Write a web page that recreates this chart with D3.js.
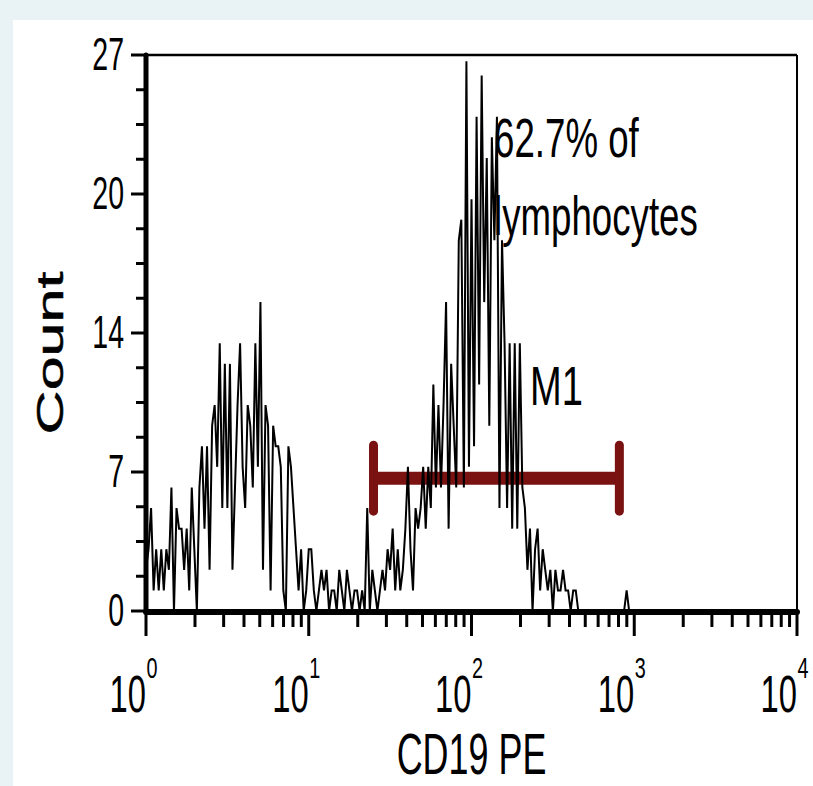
<!DOCTYPE html>
<html>
<head>
<meta charset="utf-8">
<script src="https://cdn.jsdelivr.net/npm/d3@7"></script>
<style>
  html, body { margin: 0; padding: 0; background: #e9f2f5; }
  svg { display: block; }
  text { font-family: "Liberation Sans", Arial, sans-serif; fill: #000; }
</style>
</head>
<body>
<svg id="chart" width="813" height="786"></svg>
<script>
// CD19 PE fluorescence histogram: 256 log-spaced channels over four decades
const channelsPerDecade = 64;

// events per channel, low region / dim population (channels 0-64)
const countsDim = [
  2, 3, 5, 1, 3, 1, 3, 1, 3, 2,
  6, 0, 5, 4, 4, 2, 4, 1, 6, 3,
  0, 6, 8, 4, 8, 2, 9, 10, 7, 13,
  5, 12, 5, 12, 2, 6, 10, 13, 7, 5,
  10, 9, 6, 13, 7, 15, 2, 10, 9, 1,
  9, 8, 8, 7, 1, 0, 8, 7, 5, 3,
  1, 3, 0, 1, 3
];
// channels 65-99, valley between populations
const countsValley = [
  3, 1, 0, 1, 2, 1, 2, 0, 1, 1,
  0, 2, 1, 0, 2, 1, 0, 1, 1, 0,
  1, 0, 5, 0, 2, 1, 0, 1, 2, 1,
  3, 2, 4, 1, 3
];
// channels 100-170, CD19+ population
const countsBright = [
  1, 2, 4, 7, 3, 1, 5, 4, 5, 7,
  4, 7, 5, 11, 6, 10, 6, 10, 15, 4,
  12, 9, 6, 18, 19, 6, 26.7, 7, 20, 8,
  24, 11, 26, 15, 22, 9, 23, 18, 24, 5,
  18, 13, 5, 13, 4, 13, 4, 13, 6, 5,
  2, 4, 0, 3, 4, 1, 3, 2, 1, 2,
  0, 2, 1, 1, 2, 1, 1, 0, 1, 1,
  0
];
// channels 171-255
const countsHigh = [
  0, 0, 0, 0, 0, 0, 0, 0, 0, 0,
  0, 0, 0, 0, 0, 0, 0, 0, 1, 0,
  0, 0, 0, 0, 0, 0, 0, 0, 0, 0,
  0, 0, 0, 0, 0, 0, 0, 0, 0, 0,
  0, 0, 0, 0, 0, 0, 0, 0, 0, 0,
  0, 0, 0, 0, 0, 0, 0, 0, 0, 0,
  0, 0, 0, 0, 0, 0, 0, 0, 0, 0,
  0, 0, 0, 0, 0, 0, 0, 0, 0, 0,
  0, 0, 0, 0, 0
];

const yTickValues = [0, 6.75, 13.5, 20.25, 27];
const yTickLabels = ["0", "7", "14", "20", "27"];
const xDecadeExponents = [0, 1, 2, 3, 4];

// M1 gate bounds on the fluorescence axis
const gateM1 = [25, 810];
const gateLabel = "M1";
const noteLines = ["62.7% of", "lymphocytes"];
const xTitle = "CD19 PE";
const yTitle = "Count";

const counts = countsDim.concat(countsValley, countsBright, countsHigh);

const svg = d3.select("#chart");

// white panel
svg.append("rect").attr("x", 13).attr("y", 20).attr("width", 800).attr("height", 766).attr("fill", "#fff");

const x = d3.scaleLog().domain([1, 10000]).range([146, 797]);
const y = d3.scaleLinear().domain([0, 27]).range([611, 55]);

// frame: top and right edges
svg.append("line").attr("x1", x(1)).attr("x2", x(10000)).attr("y1", y(27)).attr("y2", y(27))
  .attr("stroke", "#000").attr("stroke-width", 2.5);
svg.append("line").attr("x1", x(10000)).attr("x2", x(10000)).attr("y1", y(27)).attr("y2", y(0))
  .attr("stroke", "#000").attr("stroke-width", 2);

// M1 gate marker
const gateY = y(6.45);
const gate = svg.append("g").attr("stroke", "#7a1212").attr("stroke-linecap", "round");
gate.append("line").attr("x1", x(gateM1[0])).attr("x2", x(gateM1[1])).attr("y1", gateY).attr("y2", gateY)
  .attr("stroke-width", 13).attr("stroke-linecap", "butt");
gateM1.forEach(v => {
  gate.append("line").attr("x1", x(v)).attr("x2", x(v)).attr("y1", gateY - 33).attr("y2", gateY + 33)
    .attr("stroke-width", 9);
});

// histogram trace
const line = d3.line()
  .x((d, i) => x(Math.pow(10, i / channelsPerDecade)))
  .y(d => y(d));
svg.append("path").datum(counts).attr("d", line)
  .attr("fill", "none").attr("stroke", "#000").attr("stroke-width", 2).attr("stroke-linejoin", "miter");

// y axis
const yAxis = svg.append("g");
yAxis.append("line").attr("x1", x(1)).attr("x2", x(1)).attr("y1", y(27)).attr("y2", y(0))
  .attr("stroke", "#000").attr("stroke-width", 5).attr("stroke-linecap", "round");
const yMinor = d3.range(0, 17).map(k => k * 27 / 16).filter((v, k) => k % 4 !== 0);
yAxis.selectAll(".ymin").data(yMinor).join("line")
  .attr("x1", 136).attr("x2", x(1)).attr("y1", d => y(d)).attr("y2", d => y(d))
  .attr("stroke", "#000").attr("stroke-width", 3);
yAxis.selectAll(".ymaj").data(yTickValues).join("line")
  .attr("x1", 131).attr("x2", x(1)).attr("y1", d => y(d)).attr("y2", d => y(d))
  .attr("stroke", "#000").attr("stroke-width", 3);
yAxis.selectAll(".ylab").data(yTickValues).join("text")
  .attr("transform", d => `translate(124,${y(d) + 15}) scale(0.62,1)`)
  .attr("text-anchor", "end").attr("font-size", 46)
  .text((d, i) => yTickLabels[i]);

// x axis
const xAxis = svg.append("g");
const xMinor = [];
xDecadeExponents.slice(0, -1).forEach(e => {
  for (let k = 2; k <= 9; k++) xMinor.push(k * Math.pow(10, e));
});
xAxis.selectAll(".xmin").data(xMinor).join("line")
  .attr("x1", d => x(d)).attr("x2", d => x(d)).attr("y1", y(0)).attr("y2", 627)
  .attr("stroke", "#000").attr("stroke-width", 3);
xAxis.selectAll(".xmaj").data(xDecadeExponents).join("line")
  .attr("x1", d => x(Math.pow(10, d))).attr("x2", d => x(Math.pow(10, d))).attr("y1", y(0)).attr("y2", 636)
  .attr("stroke", "#000").attr("stroke-width", 3);
xAxis.append("line").attr("x1", x(1)).attr("x2", x(10000)).attr("y1", y(0) + 1).attr("y2", y(0) + 1)
  .attr("stroke", "#000").attr("stroke-width", 6).attr("stroke-linecap", "round");

const xLab = xAxis.selectAll(".xlab").data(xDecadeExponents).join("g");
xLab.append("text")
  .attr("transform", d => `translate(${x(Math.pow(10, d))},712) scale(0.63,1)`)
  .attr("text-anchor", "end").attr("font-size", 52).text("10");
xLab.append("text")
  .attr("transform", d => `translate(${x(Math.pow(10, d)) + 0.5},678) scale(0.66,1)`)
  .attr("text-anchor", "start").attr("font-size", 30).text(d => d);

// axis titles
svg.append("text")
  .attr("transform", `translate(${(x(1) + x(10000)) / 2},774) scale(0.63,1)`)
  .attr("text-anchor", "middle").attr("font-size", 57).text(xTitle);
svg.append("text")
  .attr("transform", `translate(63,353) rotate(-90) scale(1,0.6)`)
  .attr("text-anchor", "middle").attr("font-size", 61)
  .attr("stroke", "#000").attr("stroke-width", 0.8).text(yTitle);

// annotations
noteLines.forEach((t, i) => {
  svg.append("text")
    .attr("transform", `translate(494,${157 + i * 78}) scale(0.655,1)`)
    .attr("font-size", 56).text(t);
});
svg.append("text")
  .attr("transform", `translate(530,405) scale(0.68,1)`)
  .attr("font-size", 56).text(gateLabel);
</script>
</body>
</html>
